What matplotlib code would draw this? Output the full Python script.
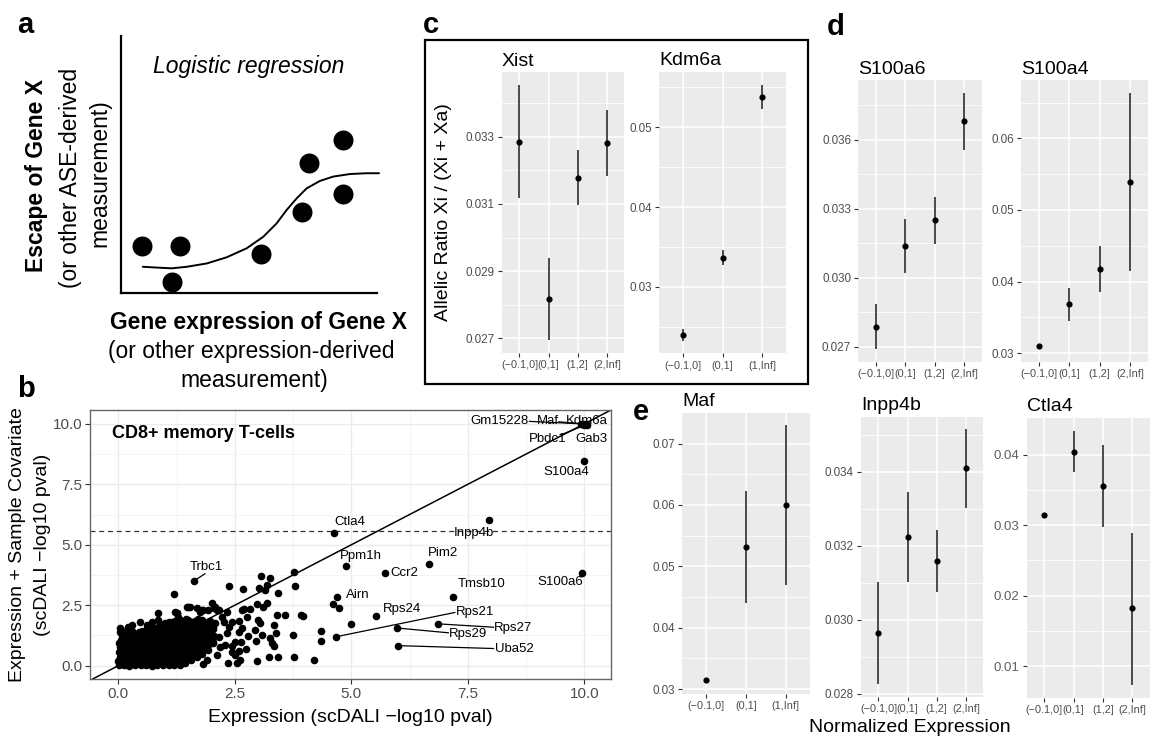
import matplotlib
matplotlib.use("Agg")
import matplotlib.pyplot as plt
from matplotlib.patches import Rectangle
from matplotlib.ticker import FormatStrFormatter

plt.rcParams['font.family'] = ['Liberation Sans', 'DejaVu Sans']

W, H = 1151, 738
fig = plt.figure(figsize=(W / 100, H / 100), dpi=100)


def add_ax(x0, y0, x1, y1):
    return fig.add_axes([x0 / W, 1 - y1 / H, (x1 - x0) / W, (y1 - y0) / H])


def ftext(x, y, s, **kw):
    return fig.text(x / W, 1 - y / H, s, **kw)


# ---------------- panel a: schematic ----------------
schema_x = [0.81, 2.30, 1.98, 5.46, 7.06, 7.34, 8.68, 8.68]
schema_y = [1.84, 1.84, 0.44, 1.52, 3.16, 5.05, 5.95, 3.84]
curve_x = [0.85, 1.39, 1.98, 2.57, 3.35, 4.13, 4.91, 5.56, 6.08, 6.47, 6.86,
           7.25, 7.77, 8.29, 8.95, 9.60, 10.08]
curve_y = [1.02, 0.99, 0.96, 1.02, 1.15, 1.39, 1.74, 2.19, 2.71, 3.23, 3.68,
           4.07, 4.36, 4.53, 4.63, 4.66, 4.66]

# ---------------- panel b: scDALI comparison ----------------
cluster_pts = [
    (0.02, 0.01), (0.00, 0.19), (0.03, 0.38), (0.01, 0.56), (0.04, 0.77), (0.02, 0.95), (0.03, 1.55),
    (0.12, 0.03), (0.14, 0.22), (0.11, 0.41), (0.15, 0.60), (0.13, 0.81), (0.12, 1.02), (0.16, 1.18),
    (0.24, 0.00), (0.26, 0.20), (0.23, 0.42), (0.27, 0.63), (0.25, 0.84), (0.28, 1.05), (0.24, 1.28),
    (0.36, 0.02), (0.38, 0.23), (0.35, 0.45), (0.39, 0.66), (0.37, 0.88), (0.36, 1.10), (0.40, 1.33),
    (0.48, 0.01), (0.50, 0.21), (0.47, 0.44), (0.51, 0.64), (0.49, 0.86), (0.52, 1.07), (0.48, 1.30), (0.50, 1.45),
    (0.60, 0.03), (0.62, 0.24), (0.59, 0.46), (0.63, 0.68), (0.61, 0.90), (0.60, 1.12), (0.64, 1.34), (0.62, 1.52),
    (0.72, 0.00), (0.74, 0.22), (0.71, 0.43), (0.75, 0.65), (0.73, 0.87), (0.76, 1.09), (0.72, 1.31), (0.74, 1.55),
    (0.84, 0.02), (0.86, 0.25), (0.83, 0.47), (0.87, 0.69), (0.85, 0.91), (0.84, 1.13), (0.88, 1.36), (0.86, 1.60),
    (0.96, 0.01), (0.98, 0.23), (0.95, 0.45), (0.99, 0.67), (0.97, 0.89), (1.00, 1.11), (0.96, 1.34), (0.98, 1.58), (0.97, 1.72),
    (1.08, 0.03), (1.10, 0.24), (1.07, 0.46), (1.11, 0.70), (1.09, 0.92), (1.08, 1.15), (1.12, 1.38), (1.10, 1.62), (1.09, 1.80),
    (1.20, 0.02), (1.22, 0.22), (1.19, 0.44), (1.23, 0.66), (1.21, 0.88), (1.24, 1.12), (1.20, 1.35), (1.22, 1.58), (1.21, 1.85),
    (1.32, 0.04), (1.34, 0.26), (1.31, 0.49), (1.35, 0.71), (1.33, 0.94), (1.32, 1.17), (1.36, 1.40), (1.34, 1.64), (1.33, 1.88),
    (1.44, 0.12), (1.46, 0.33), (1.43, 0.55), (1.47, 0.78), (1.45, 1.00), (1.48, 1.23), (1.44, 1.47), (1.46, 1.70), (1.45, 1.93),
    (1.56, 0.22), (1.58, 0.43), (1.55, 0.66), (1.59, 0.88), (1.57, 1.10), (1.56, 1.33), (1.60, 1.56), (1.58, 1.80),
    (1.68, 0.35), (1.70, 0.57), (1.67, 0.80), (1.71, 1.02), (1.69, 1.25), (1.72, 1.48), (1.68, 1.72), (1.70, 1.95),
    (1.80, 0.50), (1.82, 0.74), (1.79, 0.97), (1.83, 1.20), (1.81, 1.43), (1.84, 1.66), (1.80, 1.90),
    (1.92, 0.66), (1.94, 0.90), (1.91, 1.14), (1.95, 1.38), (1.93, 1.62), (1.96, 1.85),
    (2.04, 0.95), (2.06, 1.22), (2.03, 1.50), (2.07, 1.75),
    (0.07, 0.10), (0.08, 0.48), (0.06, 0.86), (0.19, 0.11), (0.20, 0.52), (0.18, 0.92),
    (0.31, 0.12), (0.30, 0.54), (0.32, 0.97), (0.43, 0.11), (0.42, 0.55), (0.44, 0.99),
    (0.55, 0.13), (0.56, 0.57), (0.54, 1.01), (0.67, 0.12), (0.66, 0.56), (0.68, 1.00),
    (0.79, 0.13), (0.80, 0.58), (0.78, 1.02), (0.91, 0.12), (0.92, 0.57), (0.90, 1.03),
    (1.03, 0.14), (1.04, 0.59), (1.02, 1.05), (1.15, 0.13), (1.16, 0.58), (1.14, 1.04),
    (1.27, 0.15), (1.28, 0.60), (1.26, 1.06), (1.39, 0.20), (1.40, 0.66), (1.38, 1.10),
    (0.07, 0.29), (0.08, 0.67), (0.19, 0.72), (0.31, 0.33), (0.43, 0.76), (0.55, 0.35),
    (0.67, 0.78), (0.79, 0.36), (0.91, 0.79), (1.03, 0.37), (1.15, 0.81), (1.27, 0.38),
    (1.39, 0.87), (0.20, 1.15), (0.44, 1.20), (0.66, 1.22), (0.90, 1.25), (1.15, 1.27), (1.39, 1.31),
    (0.05, 1.05), (0.08, 1.25), (0.04, 1.38), (0.18, 0.31), (0.21, 1.35), (0.17, 1.45),
    (0.30, 0.76), (0.33, 1.18), (0.29, 1.42), (0.42, 0.32), (0.45, 1.40),
    (0.56, 0.79), (0.54, 1.23), (0.57, 1.44), (0.66, 0.34), (0.68, 1.44), (0.69, 1.62),
    (0.80, 0.80), (0.78, 1.24), (0.81, 1.47), (0.92, 0.35), (0.90, 1.47), (0.93, 1.68),
    (1.04, 0.81), (1.02, 1.27), (1.05, 1.50), (1.03, 1.71), (1.16, 0.36), (1.14, 1.50), (1.17, 1.72),
    (1.28, 0.83), (1.26, 1.29), (1.29, 1.52), (1.27, 1.75), (1.40, 0.43), (1.38, 1.54), (1.41, 1.77),
    (1.50, 0.30), (1.52, 0.53), (1.51, 0.76), (1.50, 0.98), (1.53, 1.21), (1.51, 1.44), (1.52, 1.67), (1.50, 1.89),
    (1.62, 0.45), (1.64, 0.68), (1.63, 0.91), (1.62, 1.14), (1.65, 1.37), (1.63, 1.60), (1.64, 1.84),
    (1.74, 0.62), (1.76, 0.86), (1.75, 1.09), (1.74, 1.32), (1.77, 1.55), (1.75, 1.78),
    (1.86, 0.80), (1.88, 1.03), (1.87, 1.26), (1.86, 1.50), (1.89, 1.74),
    (1.98, 1.02), (2.00, 1.26), (1.99, 1.50),
]

spread_pts = [
    (1.20, 2.95), (2.38, 3.29), (2.68, 3.16), (3.06, 3.71), (3.26, 3.61), (3.02, 3.20),
    (3.18, 3.33), (3.15, 3.13), (3.43, 3.02), (3.78, 3.86), (3.79, 3.31), (4.61, 2.54),
    (4.74, 2.40), (4.99, 1.71), (4.34, 1.43), (4.34, 1.01), (4.20, 0.24), (3.76, 0.35),
    (3.74, 1.27), (3.96, 2.05), (3.92, 2.09), (3.58, 2.09), (3.40, 2.09), (3.33, 1.68),
    (3.38, 1.34), (3.26, 1.16), (3.34, 0.81), (3.43, 0.37), (3.24, 0.35), (2.97, 0.19),
    (3.08, 1.27), (2.95, 1.03), (2.93, 1.48), (3.04, 1.75), (3.00, 1.89), (3.11, 2.44),
    (3.18, 2.58), (2.97, 2.54), (2.83, 2.33), (2.70, 2.33), (2.65, 2.30), (2.77, 2.03),
    (2.60, 1.86), (2.65, 1.55), (2.58, 1.41), (2.79, 1.23), (2.63, 0.99), (2.50, 0.99),
    (2.43, 0.81), (2.58, 0.62), (2.50, 0.44), (2.61, 0.24), (2.36, 0.12), (2.29, 0.86),
    (2.33, 1.36), (2.38, 1.61), (2.43, 1.82), (2.27, 1.82), (2.22, 2.03), (2.33, 2.23),
    (2.11, 2.30), (2.06, 2.37), (2.00, 2.58), (1.93, 2.30), (1.82, 2.30), (1.75, 2.23),
    (1.68, 2.40), (1.54, 2.44), (1.47, 2.44), (1.25, 2.19), (2.04, 1.61), (2.15, 1.20),
    (2.18, 0.79), (2.11, 0.44), (1.90, 0.24), (1.82, 0.07), (2.45, 0.58), (1.86, 0.68),
    (2.04, 0.99), (1.97, 1.27), (1.54, 0.31), (1.39, 0.24), (1.25, 0.10), (2.55, 0.11),
    (0.47, 1.82), (0.85, 2.17), (1.22, 2.23), (1.27, 2.17), (1.50, 2.44), (1.79, 2.30),
    (2.07, 2.44), (2.15, 2.30), (1.00, 1.75), (0.61, 1.68), (0.29, 1.68), (0.21, 1.61),
    (0.72, 1.82), (0.86, 1.89), (1.15, 1.82), (1.29, 2.03), (3.29, 0.93), (2.74, 0.68),
]

gene_names = ['Trbc1', 'Ctla4', 'Inpp4b', 'Ppm1h', 'Pim2', 'Ccr2', 'Tmsb10', 'S100a6',
              'S100a4', 'Airn', 'Rps24', 'Rps21', 'Rps27', 'Rps29', 'Uba52',
              'Gm15228', 'Maf', 'Kdm6a', 'Pbdc1', 'Gab3']
gene_x = [1.62, 4.63, 7.96, 4.89, 6.67, 5.72, 7.18, 9.95, 10.00, 4.69, 5.53, 4.68,
          6.86, 5.97, 5.99, 9.92, 9.97, 10.03, 10.05, 10.00]
gene_y = [3.50, 5.48, 6.04, 4.13, 4.22, 3.83, 2.86, 3.84, 8.48, 2.86, 2.04, 1.20,
          1.73, 1.56, 0.83, 10.00, 10.00, 10.00, 9.97, 9.95]
signif_threshold = 5.57

# label placement (text position, alignment) and leader-line anchors
label_pos = {
    'Trbc1': (1.89, 4.10, 'center'), 'Ctla4': (4.96, 5.96, 'center'),
    'Inpp4b': (7.63, 5.50, 'center'), 'Ppm1h': (5.20, 4.55, 'center'),
    'Pim2': (6.97, 4.66, 'center'), 'Ccr2': (5.84, 3.83, 'left'),
    'Tmsb10': (7.80, 3.36, 'center'), 'S100a6': (9.49, 3.46, 'center'),
    'S100a4': (9.61, 8.00, 'center'), 'Airn': (5.14, 2.94, 'center'),
    'Rps24': (6.09, 2.34, 'center'), 'Rps21': (7.66, 2.20, 'center'),
    'Rps27': (8.47, 1.54, 'center'), 'Rps29': (7.50, 1.31, 'center'),
    'Uba52': (8.49, 0.68, 'center'), 'Gm15228': (8.18, 10.10, 'center'),
    'Maf': (9.22, 10.10, 'center'), 'Kdm6a': (10.05, 10.10, 'center'),
    'Pbdc1': (9.22, 9.37, 'center'), 'Gab3': (10.16, 9.37, 'center'),
}
leader_from = {
    'Trbc1': (1.86, 3.80), 'Rps21': (7.22, 2.20), 'Rps29': (7.08, 1.36),
    'Rps27': (8.05, 1.59), 'Uba52': (8.05, 0.71), 'Gm15228': (8.82, 10.10),
    'Maf': (9.45, 10.08), 'Pbdc1': (9.50, 9.55),
}

# ---------------- panels c-e: allelic ratio by expression bin ----------------
bins4 = ['(\u22120.1,0]', '(0,1]', '(1,2]', '(2,Inf]']
bins3 = ['(\u22120.1,0]', '(0,1]', '(1,Inf]']

xist_mid = [0.03285, 0.02817, 0.03178, 0.03281]
xist_lo = [0.03119, 0.02694, 0.03098, 0.03183]
xist_hi = [0.03455, 0.02939, 0.03261, 0.03380]

kdm6a_mid = [0.02400, 0.03363, 0.05375]
kdm6a_lo = [0.02330, 0.03270, 0.05225]
kdm6a_hi = [0.02475, 0.03458, 0.05534]

s100a6_mid = [0.02787, 0.03137, 0.03251, 0.03681]
s100a6_lo = [0.02690, 0.03019, 0.03147, 0.03557]
s100a6_hi = [0.02885, 0.03256, 0.03352, 0.03804]

s100a4_mid = [0.03094, 0.03682, 0.04178, 0.05393]
s100a4_lo = [0.03060, 0.03449, 0.03850, 0.04150]
s100a4_hi = [0.03128, 0.03916, 0.04500, 0.06636]

maf_mid = [0.03153, 0.05315, 0.05995]
maf_lo = [0.03130, 0.04402, 0.04702]
maf_hi = [0.03180, 0.06224, 0.07294]

inpp4b_mid = [0.02964, 0.03224, 0.03159, 0.03409]
inpp4b_lo = [0.02827, 0.03103, 0.03076, 0.03303]
inpp4b_hi = [0.03101, 0.03344, 0.03243, 0.03514]

ctla4_mid = [0.03144, 0.04046, 0.03553, 0.01824]
ctla4_lo = [0.03110, 0.03752, 0.02976, 0.00734]
ctla4_hi = [0.03180, 0.04341, 0.04135, 0.02888]

# ================= drawing =================
# ---- a ----
axa = add_ax(121, 36, 377, 293)
axa.set_xlim(0, 10)
axa.set_ylim(0, 10)
axa.set_xticks([])
axa.set_yticks([])
for side in ['top', 'right']:
    axa.spines[side].set_visible(False)
for side in ['left', 'bottom']:
    axa.spines[side].set_linewidth(1.6)
axa.set_facecolor('none')
axa.plot(curve_x, curve_y, color='black', lw=1.4, clip_on=False, solid_capstyle='round')
axa.scatter(schema_x, schema_y, s=207, color='black', clip_on=False, zorder=3, linewidths=0)
ftext(249, 67, 'Logistic regression', fontsize=16.5, style='italic', ha='center', va='center')
ftext(37, 175, 'Escape of Gene X', fontsize=16.5, fontweight='bold', rotation=90,
      ha='center', va='center')
ftext(70, 178, '(or other ASE-derived', fontsize=16.5, rotation=90, ha='center', va='center')
ftext(100, 173, 'measurement)', fontsize=16.5, rotation=90, ha='center', va='center')
ftext(258, 323, 'Gene expression of Gene X', fontsize=16.5, fontweight='bold',
      ha='center', va='center')
ftext(251, 352, '(or other expression-derived', fontsize=16.5, ha='center', va='center')
ftext(254, 381, 'measurement)', fontsize=16.5, ha='center', va='center')

# ---- b ----
axb = add_ax(90, 410, 611, 679)
axb.set_xlim(-0.607, 10.57)
axb.set_ylim(-0.55, 10.57)
ticks = [0, 2.5, 5, 7.5, 10]
axb.set_xticks(ticks)
axb.set_yticks(ticks)
axb.set_xticks([1.25, 3.75, 6.25, 8.75], minor=True)
axb.set_yticks([1.25, 3.75, 6.25, 8.75], minor=True)
axb.xaxis.set_major_formatter(FormatStrFormatter('%.1f'))
axb.yaxis.set_major_formatter(FormatStrFormatter('%.1f'))
axb.grid(True, which='major', color='#EBEBEB', lw=1.0)
axb.grid(True, which='minor', color='#F3F3F3', lw=0.6)
axb.set_axisbelow(True)
axb.tick_params(which='major', length=3.5, width=0.8, color='#333333',
                labelcolor='#4D4D4D', labelsize=11, pad=2)
axb.tick_params(which='minor', length=0)
for sp in axb.spines.values():
    sp.set_color('#666666')
    sp.set_linewidth(1.0)
axb.axline((0, 0), (1, 1), color='black', lw=1.1, zorder=2)
axb.axhline(signif_threshold, color='#333333', lw=0.9, dashes=(4, 3), zorder=2)
dot_size = 30
axb.scatter([p[0] for p in cluster_pts], [p[1] for p in cluster_pts], s=dot_size,
            color='black', linewidths=0, zorder=3)
axb.scatter([p[0] for p in spread_pts], [p[1] for p in spread_pts], s=dot_size,
            color='black', linewidths=0, zorder=3)
axb.scatter(gene_x, gene_y, s=dot_size, color='black', linewidths=0, zorder=3)
for name, gx, gy in zip(gene_names, gene_x, gene_y):
    if name in leader_from:
        lx, ly = leader_from[name]
        axb.plot([lx, gx], [ly, gy], color='black', lw=0.9, zorder=2)
for name in gene_names:
    tx, ty, ha = label_pos[name]
    axb.text(tx, ty, name, fontsize=9.5, ha=ha, va='center', zorder=4)
axb.text(-0.13, 9.6, 'CD8+ memory T-cells', fontsize=13, fontweight='bold',
         ha='left', va='center')
ftext(350, 718, 'Expression (scDALI \u2212log10 pval)', fontsize=14, ha='center', va='center')
ftext(18, 545, 'Expression + Sample Covariate', fontsize=14, rotation=90,
      ha='center', va='center')
ftext(43, 545, '(scDALI \u2212log10 pval)', fontsize=14, rotation=90,
      ha='center', va='center')


# ---- c, d, e ----
def interval_panel(rect, title, cats, mid, lo, hi, yticks, yminor, fmt,
                   ylab_size=8.4, ylab_color='#4D4D4D'):
    ax = add_ax(*rect)
    ax.set_facecolor('#EBEBEB')
    n = len(cats)
    pos = list(range(n))
    ax.set_xlim(-0.6, n - 1 + 0.6)
    ymin, ymax = min(lo), max(hi)
    pad = 0.05 * (ymax - ymin)
    ax.set_ylim(ymin - pad, ymax + pad)
    ax.set_xticks(pos)
    ax.set_xticklabels(cats)
    ax.set_yticks(yticks)
    ax.set_yticks(yminor, minor=True)
    ax.yaxis.set_major_formatter(FormatStrFormatter(fmt))
    ax.grid(True, which='major', color='white', lw=1.1)
    ax.grid(True, which='minor', axis='y', color='white', lw=0.55)
    ax.set_axisbelow(True)
    for sp in ax.spines.values():
        sp.set_visible(False)
    ax.tick_params(which='major', length=3.2, width=0.8, color='#333333',
                   labelcolor='#4D4D4D', labelsize=7.8, pad=2)
    ax.tick_params(axis='y', labelsize=ylab_size, labelcolor=ylab_color)
    ax.tick_params(which='minor', length=0)
    ax.vlines(pos, lo, hi, color='#1A1A1A', lw=1.1, zorder=2)
    ax.scatter(pos, mid, s=20, color='black', linewidths=0, zorder=3)
    ftext(rect[0], rect[1] - 6.5, title, fontsize=14, ha='left', va='baseline')
    return ax


interval_panel((502, 72, 624.3, 353), 'Xist', bins4, xist_mid, xist_lo, xist_hi,
               [0.027, 0.029, 0.031, 0.033], [0.028, 0.030, 0.032, 0.034], '%.3f')
interval_panel((659.3, 71.7, 786, 353.3), 'Kdm6a', bins3, kdm6a_mid, kdm6a_lo, kdm6a_hi,
               [0.03, 0.04, 0.05], [0.025, 0.035, 0.045, 0.055], '%.2f')
interval_panel((858.3, 80, 981.7, 361.7), 'S100a6', bins4, s100a6_mid, s100a6_lo, s100a6_hi,
               [0.027, 0.030, 0.033, 0.036], [0.0285, 0.0315, 0.0345, 0.0375], '%.3f')
interval_panel((1021, 80, 1148, 361.7), 'S100a4', bins4, s100a4_mid, s100a4_lo, s100a4_hi,
               [0.03, 0.04, 0.05, 0.06], [0.035, 0.045, 0.055, 0.065], '%.2f')
interval_panel((682.4, 412.7, 809.5, 694), 'Maf', bins3, maf_mid, maf_lo, maf_hi,
               [0.03, 0.04, 0.05, 0.06, 0.07], [0.035, 0.045, 0.055, 0.065], '%.2f')
interval_panel((861, 416.7, 983.3, 696.7), 'Inpp4b', bins4, inpp4b_mid, inpp4b_lo, inpp4b_hi,
               [0.028, 0.030, 0.032, 0.034], [0.029, 0.031, 0.033, 0.035], '%.3f')
interval_panel((1026.7, 418, 1150, 697.7), 'Ctla4', bins4, ctla4_mid, ctla4_lo, ctla4_hi,
               [0.01, 0.02, 0.03, 0.04], [0.015, 0.025, 0.035], '%.2f',
               ylab_size=9.5, ylab_color='#5E5E5E')

ftext(443, 212, 'Allelic Ratio Xi / (Xi + Xa)', fontsize=14, rotation=90,
      ha='center', va='center')
ftext(910, 728, 'Normalized Expression', fontsize=14, ha='center', va='center')

# frame around panel c
fig.patches.append(Rectangle((425 / W, 1 - 384 / H), (808 - 425) / W, (384 - 40) / H,
                             transform=fig.transFigure, fill=False, edgecolor='black',
                             lw=1.6))

# panel letters
for letter, x, y in [('a', 17, 33), ('b', 17, 397), ('c', 423, 33), ('d', 827, 35),
                     ('e', 633, 420)]:
    ftext(x, y, letter, fontsize=21, fontweight='bold', ha='left', va='baseline')

fig.savefig('out.png', dpi=100)
